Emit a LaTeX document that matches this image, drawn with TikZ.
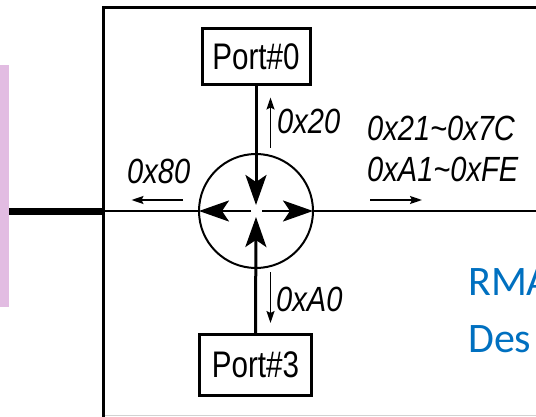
\documentclass[tikz,border=0pt]{standalone}
\usepackage{fontspec}
\setmainfont{Liberation Sans}
\newfontfamily\portfont[FakeStretch=0.8]{Liberation Sans}
\newfontfamily\labfont[FakeStretch=0.83]{Liberation Sans}
\newfontfamily\blufont{Carlito}
\usetikzlibrary{arrows.meta}
\definecolor{pinkbar}{RGB}{226,188,226}
\definecolor{rmablue}{RGB}{0,112,192}
\begin{document}
\begin{tikzpicture}[x=1pt,y=-1pt,
  portbox/.style={draw, line width=3pt, minimum width=108pt, minimum height=56pt, inner sep=0pt, outer sep=0pt,
    font=\portfont\fontsize{37}{37}\selectfont},
  lab/.style={anchor=base west, inner sep=0pt, font=\labfont\itshape\fontsize{35}{35}\selectfont},
  bigtip/.style={-{Stealth[length=30pt,width=21pt,inset=7pt]}},
  smalltip/.style={-{Stealth[length=12pt,width=8pt,inset=2pt]}, line width=1.8pt},
  blutext/.style={anchor=base west, inner sep=0pt, text=rmablue, font=\blufont\fontsize{42}{42}\selectfont},
]
\useasboundingbox (0,0) rectangle (536,417);
\clip (0,0) rectangle (536,417);
% pink bar at the left edge
\fill[pinkbar] (0,65) rectangle (9,307);
% frame
\coordinate (ftl) at (103.5,8);
\coordinate (fbl) at (103.5,420);
\coordinate (ftr) at (540,8);
\coordinate (bbl) at (103.5,415.5);
\coordinate (bbr) at (540,415.5);
\draw[gray!35, line width=1.5pt] (bbl) -- (bbr);
\draw[line width=3pt] (fbl) -- (ftl) -- (ftr);
% thick bus
\coordinate (busL) at (9,211.5);
\coordinate (junc) at (103.5,211.5);
\draw[line width=7pt] (busL) -- (junc);
% hub
\node[circle, draw, line width=2pt, minimum size=114pt, inner sep=0pt, outer sep=0pt] (hub) at (256,211) {};
% ports
\node[portbox] (p0) at (256,57) {Port\#0};
\node[portbox, minimum width=112pt, minimum height=61pt] (p3) at (255.5,364.5) {Port\#3};
% vertical connections
\coordinate (c0) at (256,205);
\coordinate (c3) at (256,217);
\draw[line width=3pt, bigtip] (p0.south) -- (c0);
\draw[line width=3pt, bigtip] (p3.north) -- (c3);
% horizontal line and arrows
\coordinate (hl) at (251,211);
\coordinate (hr) at (262,211);
\coordinate (eR) at (540,211);
\coordinate (jl) at (103.5,211);
\draw[line width=2.5pt] (jl) -- (hub.west);
\draw[line width=2.5pt] (hub.east) -- (eR);
\draw[line width=2.5pt, bigtip] (hl) -- (hub.west);
\draw[line width=2.5pt, bigtip] (hr) -- (hub.east);
% small direction arrows
\coordinate (a20b) at (270.5,148);
\coordinate (a20t) at (270.5,97.5);
\draw[smalltip] (a20b) -- (a20t);
\coordinate (aA0t) at (270.5,272);
\coordinate (aA0b) at (270.5,323);
\draw[smalltip] (aA0t) -- (aA0b);
\coordinate (a80r) at (183,200);
\coordinate (a80l) at (131.5,200);
\draw[smalltip] (a80r) -- (a80l);
\coordinate (a21l) at (370,200);
\coordinate (a21r) at (422,200);
\draw[smalltip] (a21l) -- (a21r);
% labels
\node[lab] (l20) at (277,133.3) {0x20};
\node[lab] (l21) at (367,140.5) {0x21\char"007E 0x7C};
\node[lab] (lA1) at (367,182) {0xA1\char"007E 0xFE};
\node[lab] (l80) at (127,183.3) {0x80};
\node[lab] (lA0) at (276,311) {0xA0};
% blue text (cut at the right edge, as in the reference)
\node[blutext] (rma) at (468,295) {RMA};
\node[blutext] (des) at (468,352.3) {Des};
\end{tikzpicture}
\end{document}
